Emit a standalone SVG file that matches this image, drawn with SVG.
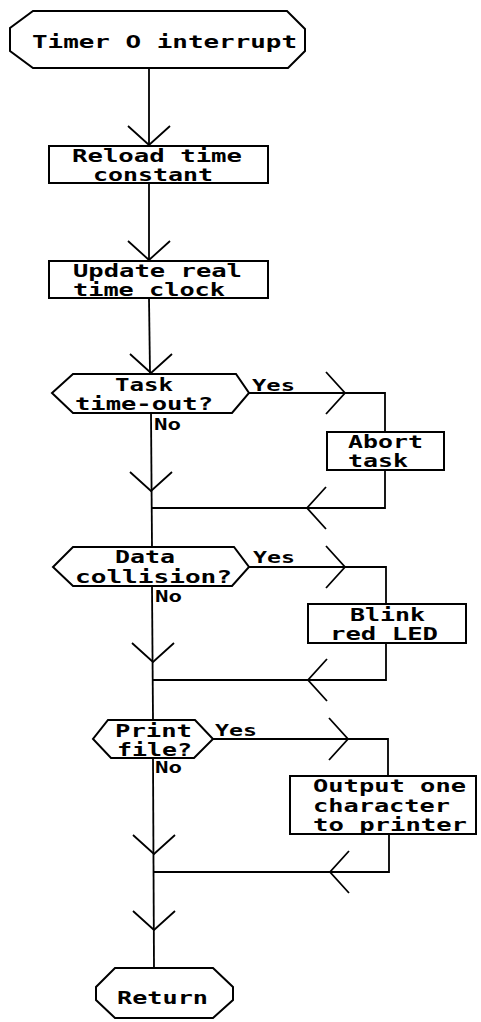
<svg xmlns="http://www.w3.org/2000/svg" xmlns:xlink="http://www.w3.org/1999/xlink" width="481" height="1022" viewBox="0 0 481 1022">
<style>
  .shape { fill: #ffffff; stroke: #000000; stroke-width: 2; stroke-linejoin: miter; }
  .line { fill: none; stroke: #000000; stroke-width: 1.8; }
  .arrow { fill: none; stroke: #000000; stroke-width: 1.8; }
  .t { font-family: "DejaVu Sans Mono", "Liberation Mono", monospace; font-weight: bold; font-size: 17px; fill: #000000; }
  .lbl { font-family: "DejaVu Sans Mono", "Liberation Mono", monospace; font-weight: bold; font-size: 16px; fill: #000000; }
</style>
<defs>
  <path id="ah" d="M-21,-19 L0,0 L21,-19"/>
</defs>
<rect width="481" height="1022" fill="#ffffff"/>

<g id="connectors">
  <g class="line">
    <path d="M149,68 L149,146"/>
    <path d="M149,183 L149,261"/>
    <path d="M149,298 L150,374"/>
    <path d="M151,413 L152,547"/>
    <path d="M152,586 L153,720"/>
    <path d="M153,758 L154,968"/>
    <path d="M249,393 L385,393 L385,432"/>
    <path d="M385,470 L385,508 L151,508"/>
    <path d="M249,567 L386,567 L386,604"/>
    <path d="M386,643 L386,680 L153,680"/>
    <path d="M213,739 L388,739 L388,776"/>
    <path d="M389,834 L389,872 L154,872"/>
  </g>
  <g class="arrow">
    <use xlink:href="#ah" transform="translate(149,145)"/>
    <use xlink:href="#ah" transform="translate(149,260)"/>
    <use xlink:href="#ah" transform="translate(151,373)"/>
    <use xlink:href="#ah" transform="translate(151,491)"/>
    <use xlink:href="#ah" transform="translate(153,662)"/>
    <use xlink:href="#ah" transform="translate(154,854)"/>
    <use xlink:href="#ah" transform="translate(154,930)"/>
    <use xlink:href="#ah" transform="translate(345,393) rotate(-90)"/>
    <use xlink:href="#ah" transform="translate(345,567) rotate(-90)"/>
    <use xlink:href="#ah" transform="translate(348,739) rotate(-90)"/>
    <use xlink:href="#ah" transform="translate(307,508) rotate(90)"/>
    <use xlink:href="#ah" transform="translate(308,680) rotate(90)"/>
    <use xlink:href="#ah" transform="translate(330,872) rotate(90)"/>
  </g>
  <g class="lbl">
    <text x="252" y="391" textLength="43" lengthAdjust="spacingAndGlyphs">Yes</text>
    <text x="253" y="563" textLength="42" lengthAdjust="spacingAndGlyphs">Yes</text>
    <text x="215" y="736" textLength="42" lengthAdjust="spacingAndGlyphs">Yes</text>
    <text x="154" y="430" textLength="27" lengthAdjust="spacingAndGlyphs">No</text>
    <text x="155" y="602" textLength="27" lengthAdjust="spacingAndGlyphs">No</text>
    <text x="155" y="773" textLength="27" lengthAdjust="spacingAndGlyphs">No</text>
  </g>
</g>

<g id="start">
  <polygon class="shape" points="33,11 287,11 305,29 305,51 288,68 33,68 10,51 10,28"/>
  <text class="t" x="32" y="48" font-size="19" textLength="265" lengthAdjust="spacingAndGlyphs">Timer O interrupt</text>
</g>

<g id="reload">
  <rect class="shape" x="49" y="146" width="219" height="37"/>
  <text class="t" x="72" y="162" textLength="170" lengthAdjust="spacingAndGlyphs">Reload time</text>
  <text class="t" x="93" y="181" textLength="120" lengthAdjust="spacingAndGlyphs">constant</text>
</g>

<g id="update">
  <rect class="shape" x="49" y="261" width="219" height="37"/>
  <text class="t" x="73" y="277" textLength="169" lengthAdjust="spacingAndGlyphs">Update real</text>
  <text class="t" x="73" y="296" textLength="152" lengthAdjust="spacingAndGlyphs">time clock</text>
</g>

<g id="task-timeout">
  <polygon class="shape" points="73,374 236,374 249,393 232,413 73,413 52,393"/>
  <text class="t" x="115" y="391" textLength="58" lengthAdjust="spacingAndGlyphs">Task</text>
  <text class="t" x="75" y="410" textLength="138" lengthAdjust="spacingAndGlyphs">time-out?</text>
</g>

<g id="abort">
  <rect class="shape" x="327" y="432" width="117" height="38"/>
  <text class="t" x="348" y="448" textLength="75" lengthAdjust="spacingAndGlyphs">Abort</text>
  <text class="t" x="348" y="467" textLength="60" lengthAdjust="spacingAndGlyphs">task</text>
</g>

<g id="data-collision">
  <polygon class="shape" points="73,547 234,547 249,567 232,586 73,586 53,567"/>
  <text class="t" x="115" y="563" textLength="60" lengthAdjust="spacingAndGlyphs">Data</text>
  <text class="t" x="75" y="583" textLength="157" lengthAdjust="spacingAndGlyphs">collision?</text>
</g>

<g id="blink">
  <rect class="shape" x="308" y="604" width="158" height="39"/>
  <text class="t" x="350" y="621" textLength="75" lengthAdjust="spacingAndGlyphs">Blink</text>
  <text class="t" x="330" y="640" textLength="108" lengthAdjust="spacingAndGlyphs">red LED</text>
</g>

<g id="print-file">
  <polygon class="shape" points="108,720 195,720 213,739 194,758 111,758 93,739"/>
  <text class="t" x="115" y="737" textLength="77" lengthAdjust="spacingAndGlyphs">Print</text>
  <text class="t" x="117" y="756" textLength="75" lengthAdjust="spacingAndGlyphs">file?</text>
</g>

<g id="output">
  <rect class="shape" x="290" y="776" width="186" height="58"/>
  <text class="t" x="313" y="792" textLength="153" lengthAdjust="spacingAndGlyphs">Output one</text>
  <text class="t" x="313" y="812" textLength="137" lengthAdjust="spacingAndGlyphs">character</text>
  <text class="t" x="313" y="831" textLength="154" lengthAdjust="spacingAndGlyphs">to printer</text>
</g>

<g id="return">
  <polygon class="shape" points="115,968 213,968 233,987 233,1000 213,1018 115,1018 96,1000 96,987"/>
  <text class="t" x="117" y="1004" textLength="91" lengthAdjust="spacingAndGlyphs">Return</text>
</g>
</svg>
